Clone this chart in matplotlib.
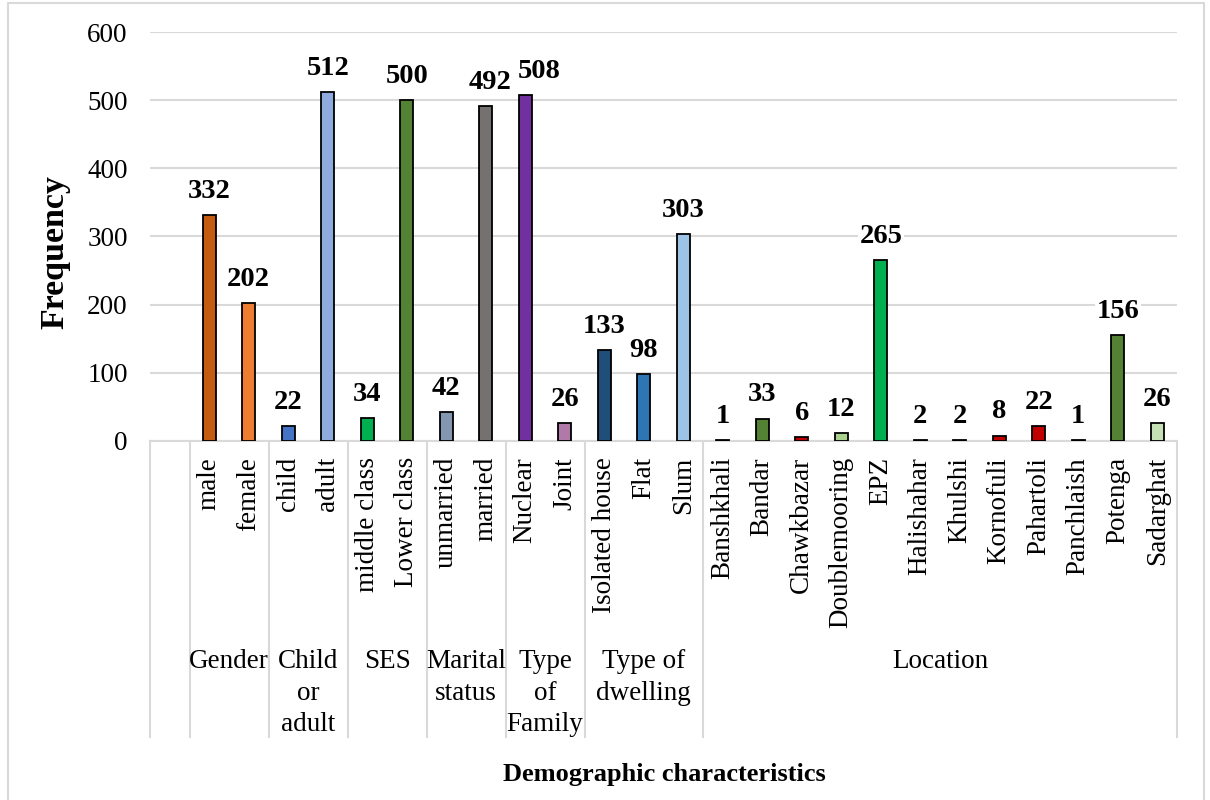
import numpy as np
import matplotlib.pyplot as plt
from matplotlib.transforms import blended_transform_factory
from matplotlib.lines import Line2D

plt.rcParams['font.family'] = ['Liberation Serif', 'DejaVu Serif']

# Sub-categories (one bar each) and their frequencies
categories = ["male", "female", "child", "adult", "middle class", "Lower class",
              "unmarried", "married", "Nuclear", "Joint",
              "Isolated house", "Flat", "Slum",
              "Banshkhali", "Bandar", "Chawkbazar", "Doublemooring", "EPZ",
              "Halishahar", "Khulshi", "Kornofuli", "Pahartoli", "Panchlaish",
              "Potenga", "Sadarghat"]
values = [332, 202, 22, 512, 34, 500, 42, 492, 508, 26,
          133, 98, 303,
          1, 33, 6, 12, 265, 2, 2, 8, 22, 1, 156, 26]
colors = ["#C55A11", "#ED7D31", "#4472C4", "#8FAADC", "#00B050", "#548235",
          "#8497B0", "#767171", "#7030A0", "#B07AA8",
          "#1F4E79", "#2E75B6", "#9DC3E6",
          "#404040", "#548235", "#C00000", "#A9D18E", "#00B050",
          "#404040", "#404040", "#C00000", "#C00000", "#404040",
          "#548235", "#C5E0B4"]

# Outer level of the category axis
groups = ["Gender", "Child\nor\nadult", "SES", "Marital\nstatus",
          "Type\nof\nFamily", "Type of\ndwelling", "Location"]
group_sizes = [2, 2, 2, 2, 2, 3, 12]

W, H = 1210, 800
fig = plt.figure(figsize=(W / 100, H / 100), dpi=100)
ax = fig.add_axes([150 / W, 1 - 441 / H, (1177 - 150) / W, (441 - 32) / H])

grid_col = "#D9D9D9"

# first slot on the axis is an empty category
x = np.arange(1, len(categories) + 1)
ax.bar(x, values, width=0.33, color=colors, edgecolor="black", linewidth=1.3, zorder=3)

# a couple of labels get pushed sideways so neighbours don't collide
nudge = {"married": 3, "Nuclear": 10}
for xi, v, name in zip(x, values, categories):
    ax.annotate(str(v), (xi, v), xytext=(nudge.get(name, 0), 8),
                textcoords="offset points", ha="center", va="bottom",
                fontsize=20.5, fontweight="bold",
                bbox=dict(boxstyle="square,pad=0.05", fc="white", ec="none"),
                zorder=4)

ax.set_xlim(-0.5, len(categories) + 0.5)
ax.set_ylim(0, 600)
ax.set_yticks(np.arange(0, 601, 100))
ax.tick_params(axis="y", length=0, pad=16, labelsize=19.5)
ax.set_xticks([])
ax.yaxis.grid(True, color=grid_col, linewidth=1.5, zorder=0)
for s in ["top", "right", "left"]:
    ax.spines[s].set_visible(False)
ax.spines["bottom"].set_color(grid_col)
ax.spines["bottom"].set_linewidth(1.5)

# Multi-level category axis drawn below the plot
tr = blended_transform_factory(ax.transData, fig.transFigure)
y_top = 1 - 441 / H
y_bot = 1 - 737 / H

bounds = [-0.5, 0.5]
for n in group_sizes:
    bounds.append(bounds[-1] + n)
for b in bounds:
    ax.add_line(Line2D([b, b], [y_top, y_bot], transform=tr, color=grid_col,
                       linewidth=1.5, clip_on=False))

for xi, name in zip(x, categories):
    ax.text(xi, 1 - 457 / H, name, transform=tr, rotation=90, ha="center",
            va="top", fontsize=19.5)

for name, lo, hi in zip(groups, bounds[1:-1], bounds[2:]):
    ax.text((lo + hi) / 2, 1 - 649 / H, name, transform=tr, ha="center",
            va="top", fontsize=19.5, linespacing=1.35, multialignment="center")

fig.text(664 / W, 1 - 774 / H, "Demographic characteristics", ha="center",
         va="center", fontsize=19, fontweight="bold")
fig.text(55 / W, 1 - 252 / H, "Frequency", ha="center", va="center",
         rotation=90, fontsize=24.5, fontweight="bold")

# Chart frame: left, top and right edges
frame_x = [8, 8, 1204, 1204]
frame_y = [800, 3, 3, 800]
fig.add_artist(Line2D([v / W for v in frame_x], [1 - v / H for v in frame_y],
                      transform=fig.transFigure, color=grid_col, linewidth=1.5))

fig.savefig("out.png", dpi=100, facecolor="white")
